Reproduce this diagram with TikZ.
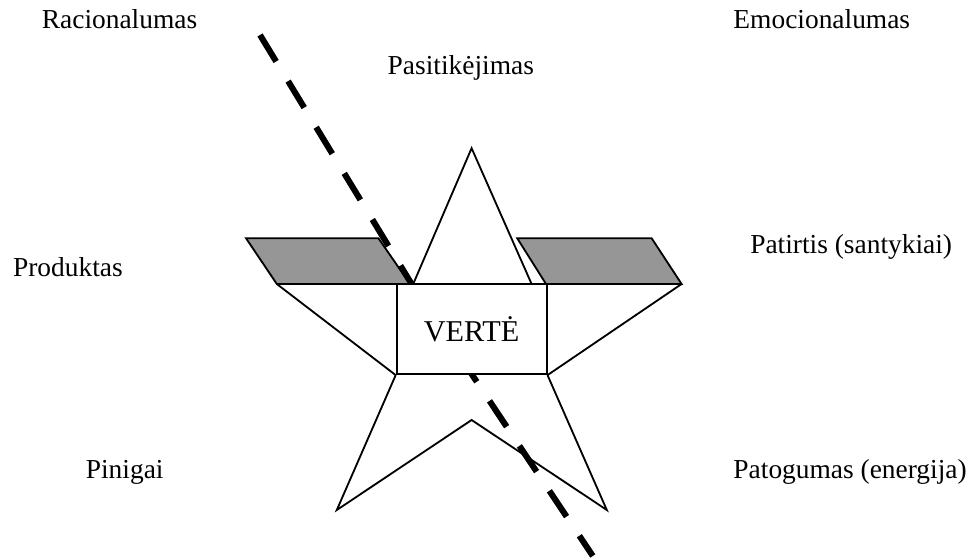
\documentclass[tikz,border=0pt]{standalone}
\usepackage{fontspec}
\setmainfont{Liberation Serif}
\usetikzlibrary{positioning,calc}
\definecolor{panelgray}{RGB}{150,150,150}

\begin{document}
\begin{tikzpicture}[
  term/.style={inner sep=0pt, anchor=base west, font=\fontsize{19.5}{23}\selectfont},
  outline/.style={draw, line width=1.3pt, line join=miter},
  panel/.style={outline, fill=panelgray},
  valuebox/.style={rectangle, outline, fill=white, minimum width=3.75cm,
                   minimum height=2.255cm, inner sep=0pt,
                   font=\fontsize{21.5}{25}\selectfont},
  cut/.style={draw, line width=4.3pt, dash pattern=on 0.775cm off 0.575cm},
]
  \useasboundingbox (0,0) rectangle (24.375,13.975);

  % Star points
  \coordinate (apex) at (11.79,10.27);
  \coordinate (baseL) at (10.33,6.875);
  \coordinate (baseR) at (13.29,6.875);
  \coordinate (wingL) at (6.92,6.875);
  \coordinate (wingR) at (17.04,6.875);
  \coordinate (notch) at (11.79,3.475);
  \coordinate (footL) at (8.42,1.225);
  \coordinate (footR) at (15.17,1.225);

  % Gray panels on the wings
  \draw[panel] (6.15,8.02) -- (9.46,8.02) -- (10.25,6.875) -- (wingL) -- cycle;
  \draw[panel] (12.93,8.02) -- (16.29,8.02) -- (wingR) -- (13.65,6.875) -- cycle;

  % Dividing line (behind the box)
  \coordinate (cutA) at (6.5,13.1);
  \coordinate (cutB) at (10.29,6.875);
  \coordinate (cutC) at (14.82,0.075);
  \draw[cut] (cutA) -- (cutB) -- (cutC);

  % Centre box
  \node[valuebox] (verte) at (11.79,5.7475) {VERTĖ};

  % Top point
  \draw[outline] (baseL) -- (apex) -- (baseR);

  % Wings and legs
  \draw[outline] (wingL) -- (wingR);
  \draw[outline] (wingL) -- (verte.south west);
  \draw[outline] (wingR) -- (verte.south east);
  \draw[outline] (verte.south west) -- (footL) -- (notch) -- (footR) -- (verte.south east);

  % Terms round the star
  \node[term] (racio) at (1.04,13.27) {Racionalumas};
  \node[term, anchor=base] (pasit) at (11.52,12.1) {Pasitikėjimas};
  \node[term] (emoc) at (18.33,13.27) {Emocionalumas};
  \node[term] (produkt) at (0.32,7.06) {Produktas};
  \node[term] (patirt) at (18.75,7.64) {Patirtis (santykiai)};
  \node[term] (pinig) at (2.14,2.02) {Pinigai};
  \node[term] (patog) at (18.33,2.02) {Patogumas (energija)};

\end{tikzpicture}
\end{document}
